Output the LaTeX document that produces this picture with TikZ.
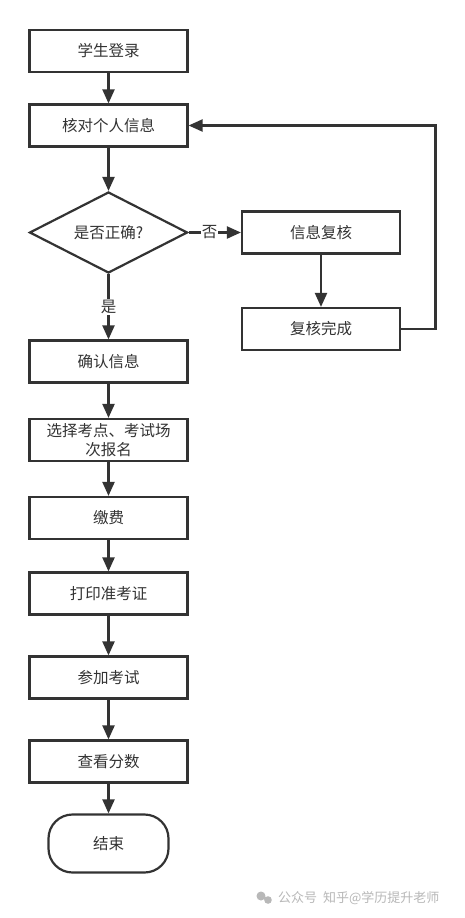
\documentclass[tikz,border=0pt]{standalone}
\usepackage{fontspec}
\setmainfont{Noto Sans CJK SC}
\usetikzlibrary{arrows.meta,shapes.geometric}
\definecolor{ln}{HTML}{333333}
\definecolor{wm}{HTML}{B8B8B8}
\begin{document}
\begin{tikzpicture}[x=1pt,y=-1pt,
  stepbox/.style={draw=ln,line width=2.2pt,minimum width=158pt,minimum height=42pt,inner sep=2pt,font=\fontsize{15.5}{18}\selectfont,text=ln,align=center},
  decbox/.style={draw=ln,line width=2.2pt,diamond,aspect=1.95,minimum width=158pt,minimum height=81pt,inner sep=0pt,font=\fontsize{15.5}{18}\selectfont,text=ln},
  endbox/.style={draw=ln,line width=2.2pt,rounded corners=24pt,minimum width=120pt,minimum height=58pt,font=\fontsize{15.5}{18}\selectfont,text=ln},
  arr/.style={draw=ln,line width=2.2pt,-{Triangle[width=12pt,length=14pt]}},
  lbl/.style={fill=white,inner sep=1pt,font=\fontsize{15.5}{18}\selectfont,text=ln}]
\useasboundingbox (0,0) rectangle (465,918);
\fill[white] (0,0) rectangle (465,918);
\node[stepbox] (login) at (108.5,51) {学生登录};
\node[stepbox] (check) at (108.5,125.5) {核对个人信息};
\node[decbox] (ok) at (108.5,232.5) {是否正确?};
\node[stepbox] (review) at (321,232.5) {信息复核};
\node[stepbox] (done) at (321,329) {复核完成};
\node[stepbox] (confirm) at (108.5,361.5) {确认信息};
\node[stepbox,font=\fontsize{15.5}{18.5}\selectfont] (choose) at (108.5,440) {选择考点、考试场\\次报名};
\node[stepbox] (pay) at (108.5,518) {缴费};
\node[stepbox] (print) at (108.5,593.5) {打印准考证};
\node[stepbox] (exam) at (108.5,677.5) {参加考试};
\node[stepbox] (score) at (108.5,761.5) {查看分数};
\node[endbox] (end) at (108.5,843.5) {结束};
\coordinate (c1) at (435.5,329);
\coordinate (c2) at (435.5,125.5);
\draw[arr] (login) -- (check);
\draw[arr] (check) -- (ok);
\draw[arr] (ok) -- node[lbl,pos=0.4] {否} (review);
\draw[arr] (review) -- (done);
\draw[arr] (done.east) -- (c1) -- (c2) -- (check.east);
\draw[arr] (ok) -- node[lbl,pos=0.5] {是} (confirm);
\draw[arr] (confirm) -- (choose);
\draw[arr] (choose) -- (pay);
\draw[arr] (pay) -- (print);
\draw[arr] (print) -- (exam);
\draw[arr] (exam) -- (score);
\draw[arr] (score) -- (end);
\node[anchor=west,text=wm,font=\fontsize{13}{15}\selectfont,inner sep=0pt] (wmk) at (278,898) {公众号\ \ 知乎@学历提升老师};
\fill[wm] (261,896) circle (4.5pt) (268,900) circle (3.8pt);
\end{tikzpicture}
\end{document}
